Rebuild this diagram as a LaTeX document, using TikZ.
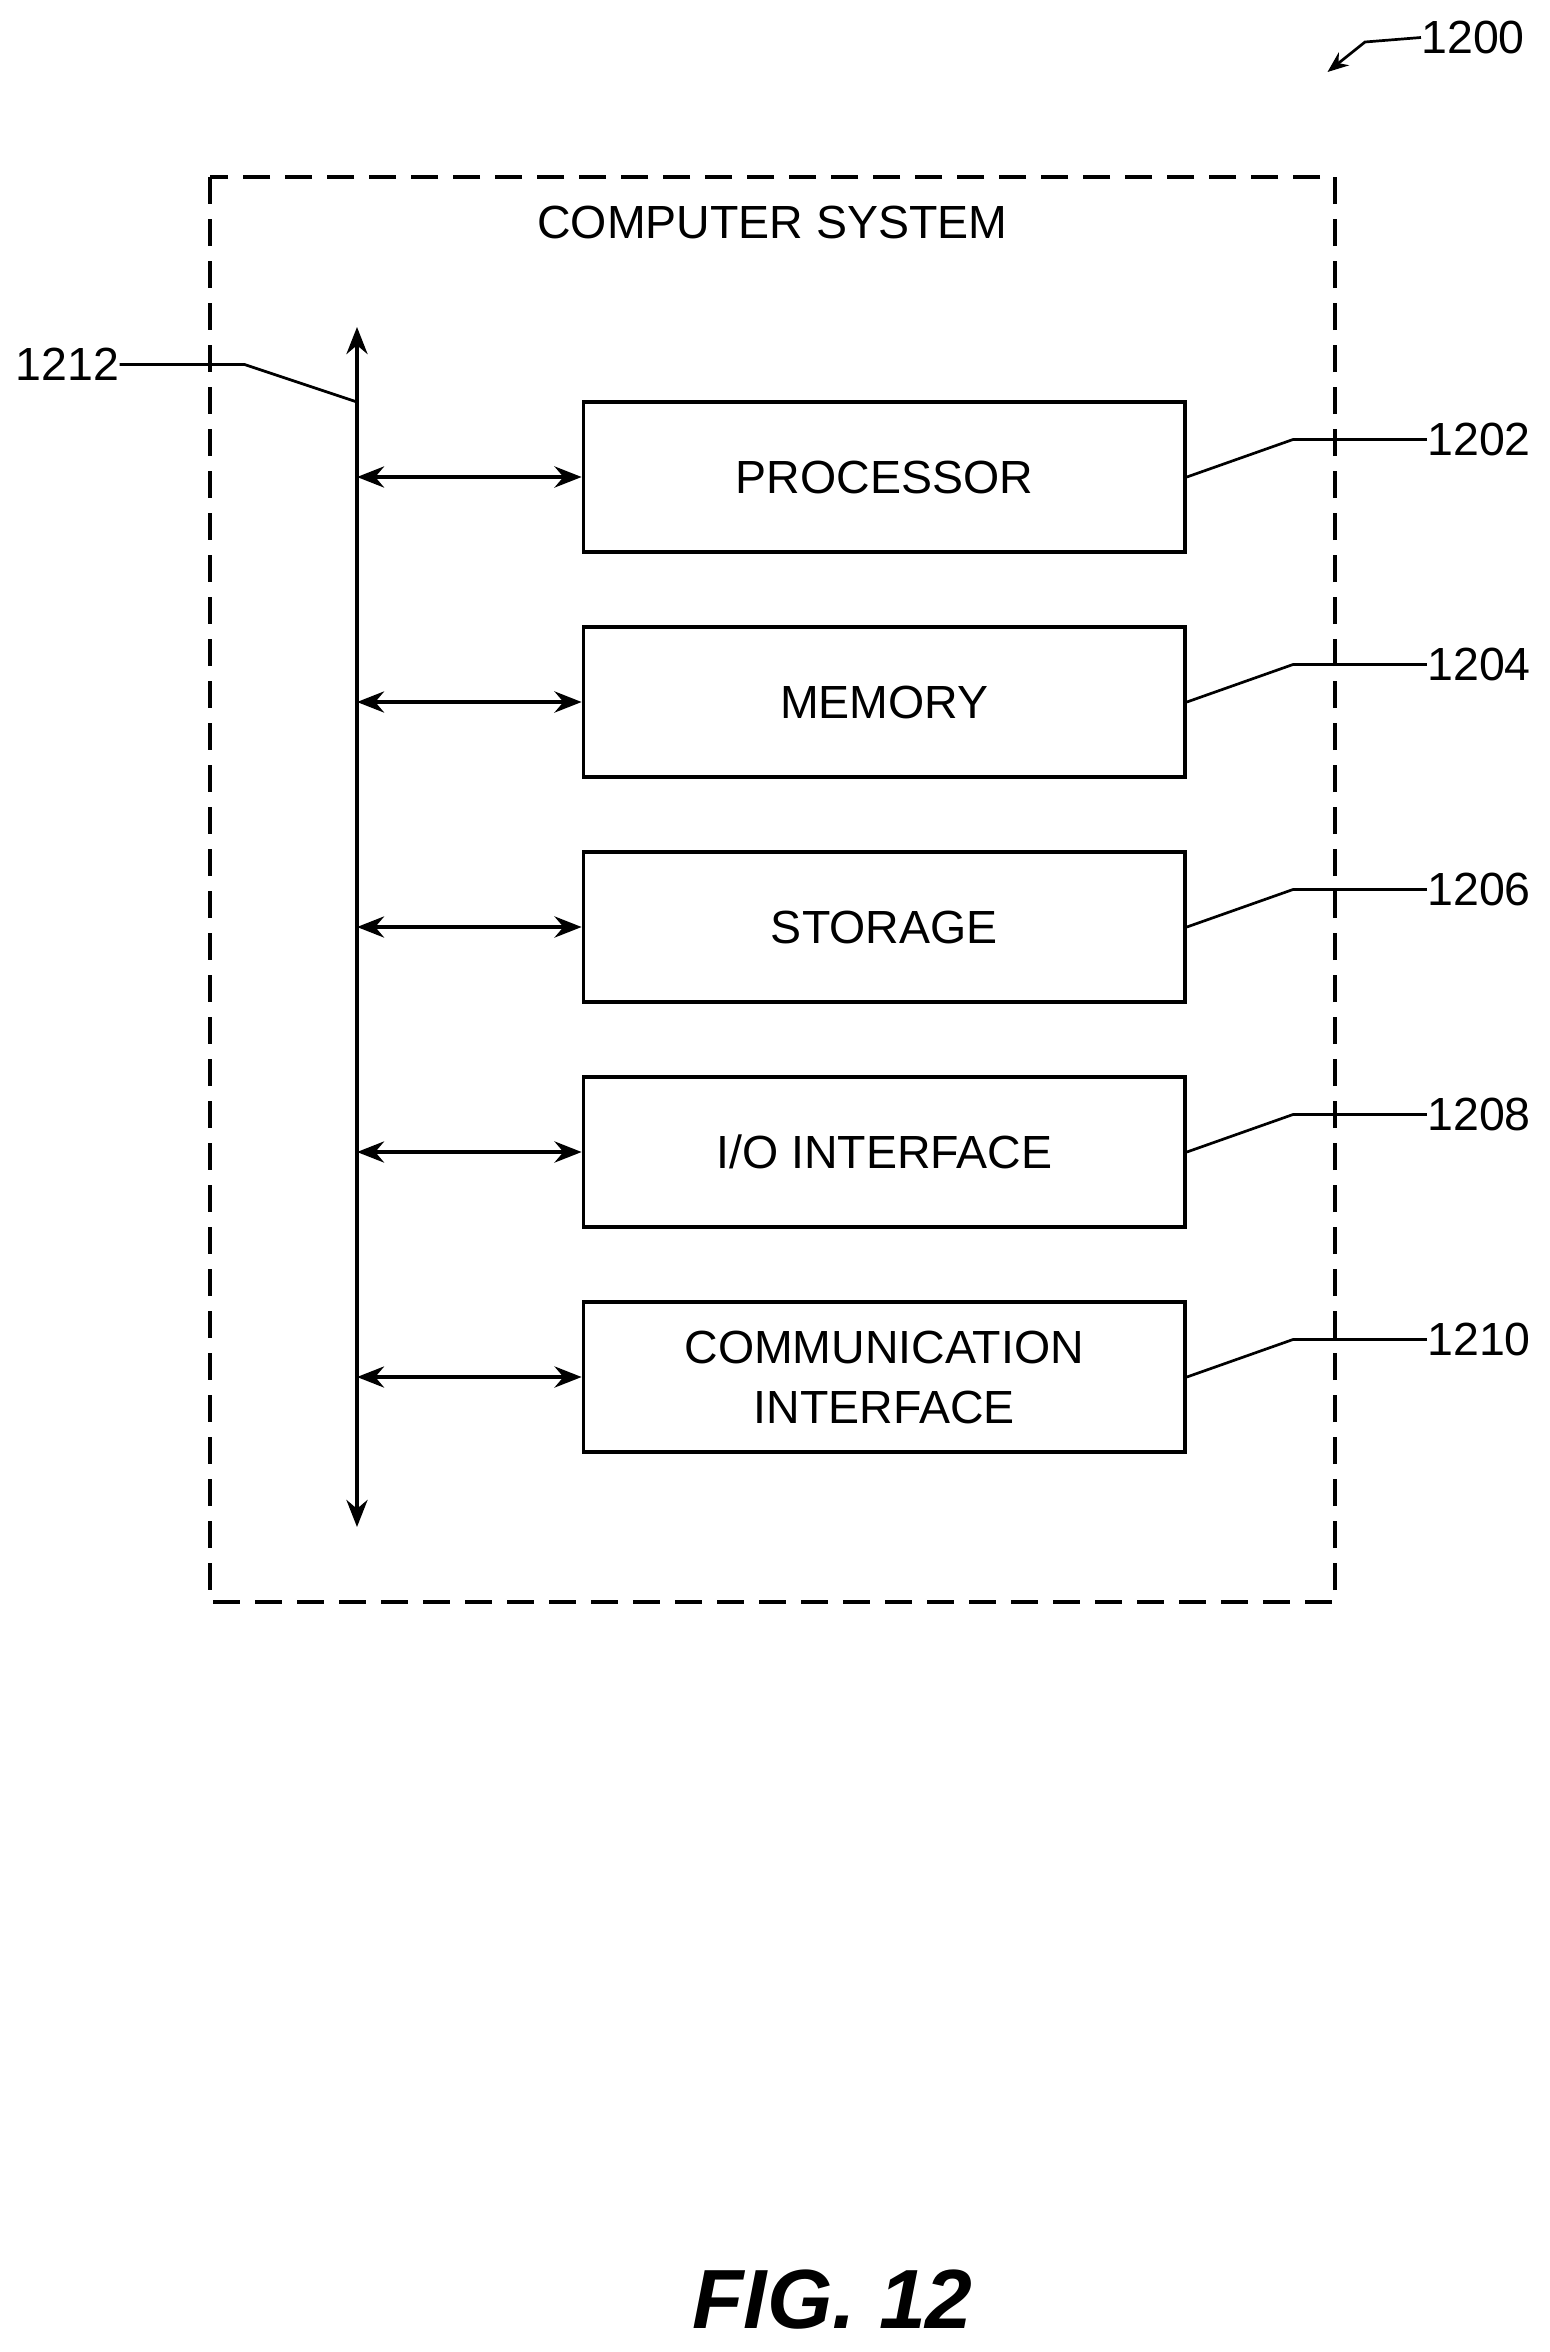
\documentclass[tikz,border=0pt]{standalone}
\usepackage{fontspec}
\setmainfont{Liberation Sans}
\usetikzlibrary{arrows.meta}
\begin{document}
\begin{tikzpicture}[x=1pt,y=-1pt,
  box/.style={draw,line width=2.5pt,minimum width=401pt,minimum height=100pt,align=center,font=\fontsize{31}{40}\selectfont,inner sep=0},
  lbl/.style={font=\fontsize{31}{36}\selectfont,inner sep=0},
  lead/.style={line width=1.8pt},
  arr/.style={line width=2.8pt,{Stealth[length=18pt,width=14pt]}-{Stealth[length=18pt,width=14pt]}}]
\useasboundingbox (0,0) rectangle (1033,1568);
\draw[line width=2.5pt,dash pattern=on 18pt off 10pt] (140,118) rectangle (890,1068);
\node[lbl] (title) at (515,148) {COMPUTER SYSTEM};
\coordinate (bt) at (238,218);
\coordinate (bb) at (238,1018);
\draw[arr] (bt) -- (bb);
\foreach \n/\t/\y/\r in {p/{PROCESSOR}/318/1202,m/{MEMORY}/468/1204,s/{STORAGE}/618/1206,i/{I/O INTERFACE}/768/1208,c/{COMMUNICATION\\INTERFACE}/918/1210}{
  \node[box] (\n) at (589.5,\y) {\t};
  \coordinate (\n b) at (238,\y);
  \draw[arr] (\n b) -- (\n.west);
  \node[lbl] (\n l) at (986,\y-25) {\r};
  \draw[lead] (\n.east) -- (862,\y-25) -- (\n l.west);
}
\node[lbl] (l1212) at (45,243) {1212};
\coordinate (bj) at (238,268);
\draw[lead] (l1212.east) -- (163,243) -- (bj);
\node[lbl] (l1200) at (982,25) {1200};
\draw[lead,-{Stealth[length=14pt,width=11pt]}] (l1200.west) -- (910,28) -- (885,48);
\node[font=\bfseries\itshape\fontsize{56}{60}\selectfont,inner sep=0] (fig) at (555,1533) {FIG. 12};
\end{tikzpicture}
\end{document}
